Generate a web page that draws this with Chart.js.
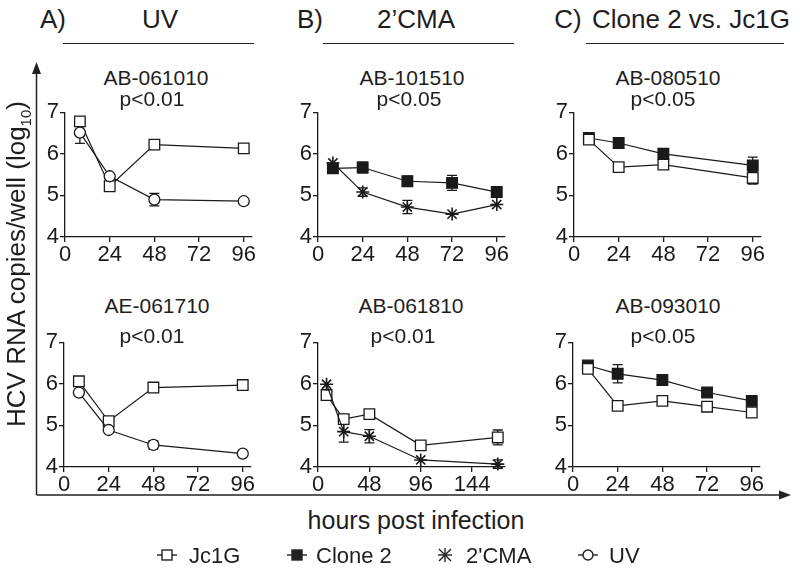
<!DOCTYPE html>
<html>
<head>
<meta charset="utf-8">
<script src="https://cdn.jsdelivr.net/npm/chart.js@4.4.0/dist/chart.umd.min.js"></script>
<style>
body{margin:0;background:#fff;width:800px;height:572px;position:relative;overflow:hidden;font-family:"Liberation Sans",Arial,sans-serif;color:#1e1e1e}
.t{position:absolute;white-space:nowrap;transform:translate(-50%,-50%);line-height:1}
.h{font-size:26px}
.s{font-size:21px}
.hl{position:absolute;height:0;border-top:1.5px solid #222;top:43px}
canvas{position:absolute}
svg{position:absolute;left:0;top:0}
</style>
</head>
<body>
<div class="t h" style="left:53px;top:19px">A)</div>
<div class="t h" style="left:160px;top:19px">UV</div>
<div class="t h" style="left:310px;top:19px">B)</div>
<div class="t h" style="left:416px;top:19px">2’CMA</div>
<div class="t h" style="left:568px;top:19px">C)</div>
<div class="t h" style="left:691px;top:19px">Clone 2 vs. Jc1G</div>
<div class="hl" style="left:63px;width:191px"></div>
<div class="hl" style="left:323px;width:191px"></div>
<div class="hl" style="left:586px;width:198px"></div>

<canvas id="a1" width="240" height="169" style="left:20px;top:98px"></canvas>
<canvas id="b1" width="240" height="169" style="left:273px;top:98px"></canvas>
<canvas id="c1" width="240" height="169" style="left:529px;top:98px"></canvas>
<canvas id="a2" width="240" height="169" style="left:19px;top:328px"></canvas>
<canvas id="b2" width="240" height="169" style="left:273px;top:328px"></canvas>
<canvas id="c2" width="240" height="169" style="left:528px;top:328px"></canvas>

<div class="t s" style="left:156px;top:77px">AB-061010</div>
<div class="t s" style="left:152px;top:98px">p&lt;0.01</div>
<div class="t s" style="left:412px;top:77px">AB-101510</div>
<div class="t s" style="left:409px;top:98px">p&lt;0.05</div>
<div class="t s" style="left:668px;top:77px">AB-080510</div>
<div class="t s" style="left:663px;top:98px">p&lt;0.05</div>
<div class="t s" style="left:157px;top:305px">AE-061710</div>
<div class="t s" style="left:152px;top:335px">p&lt;0.01</div>
<div class="t s" style="left:411px;top:305px">AB-061810</div>
<div class="t s" style="left:403px;top:335px">p&lt;0.01</div>
<div class="t s" style="left:668px;top:305px">AB-093010</div>
<div class="t s" style="left:663px;top:335px">p&lt;0.05</div>

<div class="t" style="left:18px;top:264px;font-size:26px;transform:translate(-50%,-50%) rotate(-90deg)">HCV RNA copies/well (log<sub style="font-size:15px">10</sub>)</div>
<div class="t" style="left:416px;top:520px;font-size:25px">hours post infection</div>

<svg width="800" height="572">
  <g stroke="#222" stroke-width="1.5" fill="none">
    <line x1="36.5" y1="495" x2="36.5" y2="70"/>
    <line x1="36.5" y1="495" x2="782" y2="495"/>
  </g>
  <polygon points="36.5,62 32,74 41,74" fill="#222"/>
  <polygon points="791,495 779,490.5 779,499.5" fill="#222"/>
  <g stroke="#222" stroke-width="1.4" fill="none">
    <line x1="157" y1="555" x2="177" y2="555"/>
    <rect x="162" y="550" width="10" height="10" fill="#fff"/>
    <line x1="287" y1="555" x2="307" y2="555"/>
    <rect x="292" y="550" width="10" height="10" fill="#222"/>
    <line x1="439" y1="549" x2="451" y2="561"/>
    <line x1="451" y1="549" x2="439" y2="561"/>
    <line x1="445" y1="548" x2="445" y2="562"/>
    <line x1="438" y1="555" x2="452" y2="555"/>
    <line x1="578" y1="555" x2="598" y2="555"/>
    <circle cx="588" cy="555" r="5" fill="#fff"/>
  </g>
</svg>
<div class="t" style="left:189px;top:556px;font-size:22px;transform:translate(0,-50%)">Jc1G</div>
<div class="t" style="left:316px;top:556px;font-size:22px;transform:translate(0,-50%)">Clone 2</div>
<div class="t" style="left:466px;top:556px;font-size:22px;transform:translate(0,-50%)">2'CMA</div>
<div class="t" style="left:609px;top:556px;font-size:22px;transform:translate(0,-50%)">UV</div>

<script>
// A) UV - AB-061010
const hoursA1 = [8, 24, 48, 96];
const jc1gA1 = [6.78, 5.22, 6.22, 6.13];
const jc1gA1Err = [0, 0, 0, 0];
const uvA1 = [6.51, 5.46, 4.9, 4.86];
const uvA1Err = [0.26, 0, 0.15, 0];

// A) UV - AE-061710
const hoursA2 = [8, 24, 48, 96];
const jc1gA2 = [6.06, 5.1, 5.91, 5.97];
const jc1gA2Err = [0, 0, 0, 0];
const uvA2 = [5.79, 4.89, 4.53, 4.32];
const uvA2Err = [0, 0, 0.1, 0];

// B) 2'CMA - AB-101510
const hoursB1 = [8, 24, 48, 72, 96];
const clone2B1 = [5.65, 5.67, 5.34, 5.3, 5.08];
const clone2B1Err = [0, 0.13, 0.12, 0.18, 0];
const cmaB1 = [5.78, 5.08, 4.72, 4.55, 4.78];
const cmaB1Err = [0, 0.1, 0.16, 0, 0];

// B) 2'CMA - AB-061810
const hoursB2 = [8, 24, 48, 96, 168];
const jc1gB2 = [5.73, 5.15, 5.27, 4.52, 4.71];
const jc1gB2Err = [0, 0, 0, 0, 0.18];
const cmaB2 = [5.99, 4.85, 4.74, 4.17, 4.07];
const cmaB2Err = [0, 0.25, 0.16, 0, 0.1];

// C) Clone 2 vs. Jc1G - AB-080510
const hoursC1 = [8, 24, 48, 96];
const clone2C1 = [6.38, 6.26, 6.0, 5.72];
const clone2C1Err = [0, 0, 0, 0.2];
const jc1gC1 = [6.34, 5.68, 5.74, 5.42];
const jc1gC1Err = [0, 0, 0, 0.15];

// C) Clone 2 vs. Jc1G - AB-093010
const hoursC2 = [8, 24, 48, 72, 96];
const clone2C2 = [6.44, 6.24, 6.09, 5.79, 5.59];
const clone2C2Err = [0.08, 0.22, 0, 0, 0];
const jc1gC2 = [6.36, 5.47, 5.59, 5.45, 5.31];
const jc1gC2Err = [0, 0, 0, 0.07, 0];

const xTicks96 = [0, 24, 48, 72, 96];
const xTicks168 = [0, 48, 96, 144];
const yTicks = [4, 5, 6, 7];

const ink = '#1a1a1a';

const styles = {
  jc1g: {pointStyle: 'rect', pointRadius: 7.5, pointBackgroundColor: '#fff', pointBorderWidth: 1.3},
  clone2: {pointStyle: 'rect', pointRadius: 7.5, pointBackgroundColor: ink, pointBorderWidth: 1.3},
  cma: {pointStyle: 'star', pointRadius: 6.5, pointBackgroundColor: ink, pointBorderWidth: 1.6},
  uv: {pointStyle: 'circle', pointRadius: 5.5, pointBackgroundColor: '#fff', pointBorderWidth: 1.3}
};

function series(kind, hours, vals, errs) {
  return Object.assign({
    data: hours.map((h, i) => ({x: h, y: vals[i]})),
    err: errs,
    borderColor: ink,
    pointBorderColor: ink,
    borderWidth: 1.2,
    tension: 0,
    clip: false
  }, styles[kind]);
}

// error bars drawn with the y scale, behind the markers
const errorBars = {
  id: 'errorBars',
  beforeDatasetsDraw(chart) {
    const ctx = chart.ctx;
    const ys = chart.scales.y;
    chart.data.datasets.forEach((ds, i) => {
      chart.getDatasetMeta(i).data.forEach((pt, j) => {
        const e = ds.err[j];
        if (!e) return;
        const v = ds.data[j].y;
        const top = ys.getPixelForValue(v + e);
        const bot = ys.getPixelForValue(v - e);
        ctx.save();
        ctx.strokeStyle = ink;
        ctx.lineWidth = 1.3;
        ctx.beginPath();
        ctx.moveTo(pt.x, top); ctx.lineTo(pt.x, bot);
        ctx.moveTo(pt.x - 5, top); ctx.lineTo(pt.x + 5, top);
        ctx.moveTo(pt.x - 5, bot); ctx.lineTo(pt.x + 5, bot);
        ctx.stroke();
        ctx.restore();
      });
    });
  }
};

function panel(id, datasets, xMax, xTicks) {
  const tickFont = {family: '"Liberation Sans", Arial, sans-serif', size: 22};
  new Chart(document.getElementById(id), {
    type: 'line',
    data: {datasets: datasets},
    plugins: [errorBars],
    options: {
      responsive: false,
      animation: false,
      devicePixelRatio: 1,
      layout: {padding: {top: 14, right: 8, left: 0, bottom: 0}},
      plugins: {legend: {display: false}, tooltip: {enabled: false}},
      scales: {
        x: {
          type: 'linear', min: 0, max: xMax,
          afterBuildTicks: s => { s.ticks = xTicks.map(v => ({value: v})); },
          afterFit: s => { s.height = 30; },
          grid: {drawOnChartArea: false, color: ink, lineWidth: 1.3, tickLength: 5},
          border: {color: ink, width: 1.3},
          ticks: {color: ink, font: tickFont, padding: 0, maxRotation: 0, autoSkip: false}
        },
        y: {
          type: 'linear', min: 4, max: 7,
          afterBuildTicks: s => { s.ticks = yTicks.map(v => ({value: v})); },
          afterFit: s => { s.width = 45; },
          grid: {drawOnChartArea: false, color: ink, lineWidth: 1.3, tickLength: 5},
          border: {color: ink, width: 1.3},
          ticks: {color: ink, font: tickFont, padding: 1}
        }
      }
    }
  });
}

panel('a1', [
  series('uv', hoursA1, uvA1, uvA1Err),
  series('jc1g', hoursA1, jc1gA1, jc1gA1Err)
], 100, xTicks96);

panel('a2', [
  series('uv', hoursA2, uvA2, uvA2Err),
  series('jc1g', hoursA2, jc1gA2, jc1gA2Err)
], 100, xTicks96);

panel('b1', [
  series('cma', hoursB1, cmaB1, cmaB1Err),
  series('clone2', hoursB1, clone2B1, clone2B1Err)
], 100, xTicks96);

panel('b2', [
  series('cma', hoursB2, cmaB2, cmaB2Err),
  series('jc1g', hoursB2, jc1gB2, jc1gB2Err)
], 174, xTicks168);

panel('c1', [
  series('jc1g', hoursC1, jc1gC1, jc1gC1Err),
  series('clone2', hoursC1, clone2C1, clone2C1Err)
], 100, xTicks96);

panel('c2', [
  series('jc1g', hoursC2, jc1gC2, jc1gC2Err),
  series('clone2', hoursC2, clone2C2, clone2C2Err)
], 100, xTicks96);
</script>
</body>
</html>
